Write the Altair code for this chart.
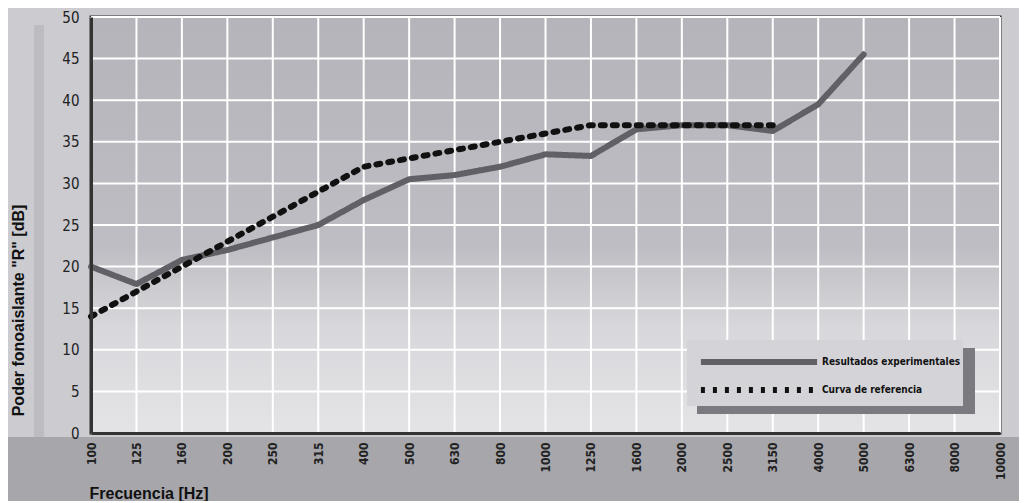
import altair as alt
import pandas as pd

# ---- data ----
freqs = ["100", "125", "160", "200", "250", "315", "400", "500", "630", "800",
         "1000", "1250", "1600", "2000", "2500", "3150", "4000", "5000", "6300",
         "8000", "10000"]
experimental = [20.0, 17.9, 20.8, 22.0, 23.5, 25.0, 28.0, 30.5, 31.0, 32.0,
                 33.5, 33.3, 36.5, 37.0, 37.0, 36.3, 39.5, 45.5]
reference = [14, 17, 20, 23, 26, 29, 32, 33, 34, 35, 36, 37, 37, 37, 37, 37]
y_ticks = [0, 5, 10, 15, 20, 25, 30, 35, 40, 45, 50]
series_names = ["Resultados experimentales", "Curva de referencia"]

rows = []
for f, v in zip(freqs, experimental):
    rows.append({"freq": f, "R": v, "serie": series_names[0]})
for f, v in zip(freqs, reference):
    rows.append({"freq": f, "R": v, "serie": series_names[1]})
df = pd.DataFrame(rows)

W, H = 909, 416
FONT = "DejaVu Sans Condensed, Liberation Sans, Arial, sans-serif"
BOLD = "Liberation Sans, Arial, sans-serif"

xscale = alt.Scale(domain=freqs, type="point", padding=0)
yscale = alt.Scale(domain=[0, 50], nice=False)

xaxis = alt.Axis(title="Frecuencia [Hz]", labelAngle=-90, labelAlign="right",
                 labelBaseline="middle", labelFont=FONT, labelFontSize=12,
                 labelFontWeight="bold", labelColor="#222", labelPadding=9,
                 ticks=False, grid=False, domainColor="#333", domainWidth=3,
                 titleFont=BOLD, titleFontSize=16, titleFontWeight="bold",
                 titleColor="#111", titleAnchor="start", titleAlign="left",
                 titleX=-2, titleY=60, titleBaseline="middle", zindex=1)
yaxis = alt.Axis(title='Poder fonoaislante "R" [dB]', values=y_ticks,
                 labelFont=FONT, labelFontSize=15, labelColor="#222",
                 labelPadding=12, ticks=False, grid=False, domainColor="#333",
                 domainWidth=3, titleFont=BOLD, titleFontSize=16,
                 titleFontWeight="bold", titleColor="#111", titleX=-73,
                 titleY=293, titleAlign="center", titleBaseline="middle",
                 zindex=1)

one = alt.Data(values=[{}])

# plot background gradient
bg = alt.Chart(one).mark_rect(
    color=alt.Gradient(
        gradient="linear", x1=0, x2=0, y1=0, y2=1,
        stops=[alt.GradientStop(offset=0, color="#b4b4ba"),
               alt.GradientStop(offset=0.55, color="#bdbdc3"),
               alt.GradientStop(offset=0.75, color="#d8d8dc"),
               alt.GradientStop(offset=1, color="#e4e4e7")]),
).encode(x=alt.value(0), x2=alt.value("width"), y=alt.value(0), y2=alt.value("height"))

# darker strip under the x axis
strip = alt.Chart(one).mark_rect(color="#a6a6ab", clip=False).encode(
    x=alt.value(-100), x2=alt.value(W + 40), y=alt.value(H + 4), y2=alt.value(H + 80))
# subtle vertical bar at left
lbar = alt.Chart(one).mark_rect(color="#bcbcc1", clip=False).encode(
    x=alt.value(-57), x2=alt.value(-47), y=alt.value(8), y2=alt.value(H + 4))

vgrid = alt.Chart(pd.DataFrame({"freq": freqs})).mark_rule(
    color="white", strokeWidth=2).encode(x=alt.X("freq:N", scale=xscale, sort=freqs, axis=xaxis))
hgrid = alt.Chart(pd.DataFrame({"R": y_ticks})).mark_rule(
    color="white", strokeWidth=2).encode(y=alt.Y("R:Q", scale=yscale, axis=yaxis))

# legend box with shadow
lx, ly = 596, 323
legend_box = alt.Chart(one).mark_rect(color="#d4d4d8").encode(
    x=alt.value(lx), x2=alt.value(lx + 276), y=alt.value(ly), y2=alt.value(ly + 66))
legend_sh1 = alt.Chart(one).mark_rect(color="#7a7a80").encode(
    x=alt.value(lx + 276), x2=alt.value(lx + 288), y=alt.value(ly + 8), y2=alt.value(ly + 74))
legend_sh2 = alt.Chart(one).mark_rect(color="#7a7a80").encode(
    x=alt.value(lx + 10), x2=alt.value(lx + 288), y=alt.value(ly + 66), y2=alt.value(ly + 74))

leg_kw = dict(title=None, orient="none", legendX=659, legendY=336, padding=0,
              symbolType="M-10,0H10", symbolSize=135, symbolStrokeWidth=6,
              labelFont=FONT, labelFontSize=10, labelFontWeight="bold",
              labelColor="#111", labelOffset=54, rowPadding=4, labelLimit=300)

lines = alt.Chart(df).mark_line(strokeWidth=6, strokeCap="round", strokeJoin="round").encode(
    x=alt.X("freq:N", scale=xscale, sort=freqs, axis=xaxis),
    y=alt.Y("R:Q", scale=yscale, axis=yaxis),
    color=alt.Color("serie:N", scale=alt.Scale(domain=series_names, range=["#606066", "#111111"]),
                    legend=alt.Legend(**leg_kw)),
    strokeDash=alt.StrokeDash("serie:N", scale=alt.Scale(domain=series_names, range=[[1, 0], [4, 8]]),
                              legend=alt.Legend(**leg_kw)),
)

chart = alt.layer(bg, strip, lbar, vgrid, hgrid, legend_box, legend_sh1, legend_sh2, lines).properties(
    width=W, height=H,
    autosize=alt.AutoSizeParams(type="none"),
    padding={"left": 83, "top": 9, "right": 19, "bottom": 68},
    background="#cbcbd0",
).configure_view(stroke="#333", strokeWidth=3)

chart.save("out.html", embed_options={"renderer": "svg", "actions": False})
